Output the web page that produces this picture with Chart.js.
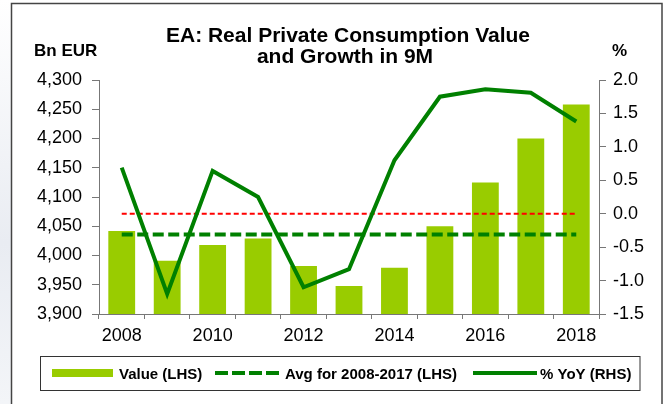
<!DOCTYPE html>
<html>
<head>
<meta charset="utf-8">
<script src="https://cdn.jsdelivr.net/npm/chart.js@4.4.1/dist/chart.umd.min.js"></script>
<style>
  html, body { margin: 0; padding: 0; background: #fff; }
  canvas { display: block; }
</style>
</head>
<body>
<canvas id="chart" width="667" height="404"></canvas>
<script>
// data
const years = ['2008', '2009', '2010', '2011', '2012', '2013', '2014', '2015', '2016', '2017', '2018'];
const valueBn = [4042, 3991, 4018, 4029, 3982, 3948, 3979, 4050, 4125, 4200, 4258];
const avgBn = [4036, 4036, 4036, 4036, 4036, 4036, 4036, 4036, 4036, 4036, 4036];
const yoyPct = [0.69, -1.2, 0.64, 0.25, -1.1, -0.83, 0.8, 1.75, 1.86, 1.81, 1.38];
const zeroPct = [0, 0, 0, 0, 0, 0, 0, 0, 0, 0, 0];

const titleLines = ['EA: Real Private Consumption Value', 'and Growth in 9M'];
const leftUnit = 'Bn EUR';
const rightUnit = '%';
const legendLabels = ['Value (LHS)', 'Avg for 2008-2017 (LHS)', '% YoY (RHS)'];

const barGreen = '#99CC00';
const lineGreen = '#008000';
const axisGrey = '#777777';
const font = "'Liberation Sans', Arial, sans-serif";

// title, units, frame and the boxed legend
const decorations = {
    id: 'decorations',
    beforeDraw(chart) {
        const ctx = chart.ctx;
        ctx.save();
        let g = ctx.createLinearGradient(0, 0, 0, 404);
        g.addColorStop(0, '#ffffff');
        g.addColorStop(0.6, '#e9ecf2');
        g.addColorStop(1, '#f3f5f8');
        ctx.fillStyle = g;
        ctx.fillRect(0, 0, 11, 404);
        ctx.restore();
    },
    afterDraw(chart) {
        const ctx = chart.ctx;
        ctx.save();

        // outer frame
        ctx.strokeStyle = '#444';
        ctx.lineWidth = 1.5;
        ctx.strokeRect(11.5, 3.5, 650.5, 430);

        ctx.fillStyle = '#000';
        ctx.textBaseline = 'alphabetic';
        ctx.textAlign = 'center';
        ctx.font = 'bold 21px ' + font;
        ctx.fillText(titleLines[0], 348, 42);
        ctx.fillText(titleLines[1], 345, 63);

        ctx.font = 'bold 17px ' + font;
        ctx.textAlign = 'left';
        ctx.fillText(leftUnit, 34, 56);
        ctx.fillText(rightUnit, 612, 56);

        // legend box
        ctx.strokeStyle = '#333';
        ctx.lineWidth = 1;
        ctx.strokeRect(40.5, 356.5, 599.5, 34);

        ctx.fillStyle = barGreen;
        ctx.fillRect(52, 369, 61, 8);

        ctx.strokeStyle = lineGreen;
        ctx.lineWidth = 4;
        ctx.setLineDash([13, 4]);
        ctx.beginPath();
        ctx.moveTo(215, 373);
        ctx.lineTo(279, 373);
        ctx.stroke();

        ctx.setLineDash([]);
        ctx.beginPath();
        ctx.moveTo(473, 373);
        ctx.lineTo(537, 373);
        ctx.stroke();

        ctx.fillStyle = '#000';
        ctx.font = 'bold 15px ' + font;
        ctx.fillText(legendLabels[0], 119, 378.5);
        ctx.fillText(legendLabels[1], 285, 378.5);
        ctx.fillText(legendLabels[2], 540, 378.5);

        ctx.restore();
    }
};

const axisGrid = {
    display: true,
    drawOnChartArea: false,
    color: axisGrey,
    tickLength: 7
};

const tickFont = { family: font, size: 18 };

new Chart(document.getElementById('chart').getContext('2d'), {
    type: 'bar',
    data: {
        labels: years,
        datasets: [
            {
                type: 'line',
                label: legendLabels[2],
                data: yoyPct,
                yAxisID: 'y1',
                borderColor: lineGreen,
                borderWidth: 4,
                pointRadius: 0,
                tension: 0,
                fill: false,
                order: 0
            },
            {
                type: 'line',
                label: legendLabels[1],
                data: avgBn,
                yAxisID: 'y',
                borderColor: lineGreen,
                borderWidth: 4,
                borderDash: [11, 4.5],
                pointRadius: 0,
                fill: false,
                order: 1
            },
            {
                type: 'line',
                label: 'zero',
                data: zeroPct,
                yAxisID: 'y1',
                borderColor: '#FF0000',
                borderWidth: 2,
                borderDash: [5, 3],
                pointRadius: 0,
                fill: false,
                order: 2
            },
            {
                type: 'bar',
                label: legendLabels[0],
                data: valueBn,
                yAxisID: 'y',
                backgroundColor: barGreen,
                barPercentage: 0.59,
                categoryPercentage: 1,
                order: 3
            }
        ]
    },
    options: {
        responsive: false,
        animation: false,
        devicePixelRatio: 1,
        layout: { padding: { top: 80, left: 0, right: 0, bottom: 0 } },
        plugins: {
            legend: { display: false },
            tooltip: { enabled: false },
            title: { display: false }
        },
        scales: {
            x: {
                grid: { display: true, drawOnChartArea: false, color: axisGrey, tickLength: 5, offset: true },
                border: { color: axisGrey },
                ticks: {
                    autoSkip: false,
                    maxRotation: 0,
                    padding: 6,
                    color: '#000',
                    font: tickFont,
                    callback: (v, i) => (i % 2 === 0 ? years[i] : '')
                },
                afterFit: s => { s.height = 90; }
            },
            y: {
                position: 'left',
                min: 3900,
                max: 4300,
                grid: axisGrid,
                border: { color: axisGrey },
                ticks: {
                    stepSize: 50,
                    padding: 10,
                    color: '#000',
                    font: tickFont,
                    callback: v => v.toLocaleString('en-US')
                },
                afterFit: s => { s.width = 99; }
            },
            y1: {
                position: 'right',
                min: -1.5,
                max: 2.0,
                grid: axisGrid,
                border: { color: axisGrey },
                ticks: {
                    stepSize: 0.5,
                    padding: 7,
                    color: '#000',
                    font: tickFont,
                    callback: v => v.toFixed(1)
                },
                afterFit: s => { s.width = 68; }
            }
        }
    },
    plugins: [decorations]
});
</script>
</body>
</html>
